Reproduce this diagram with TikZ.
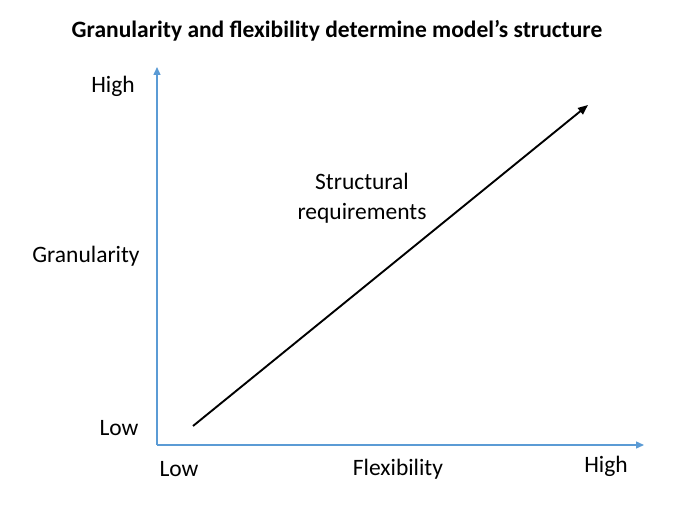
\documentclass[tikz,border=0pt]{standalone}
\usepackage{fontspec}
\setmainfont{Carlito}
\usetikzlibrary{arrows.meta}
\definecolor{axisblue}{RGB}{91,155,213}
\begin{document}
\begin{tikzpicture}[x=1pt,y=-1pt,
  lbl/.style={font=\fontsize{23.5}{27}\selectfont,inner sep=0pt,align=center},
  axis/.style={draw=axisblue,line width=1.4pt,-{Triangle[length=8pt,width=7pt]}}]
\useasboundingbox (0,0) rectangle (700,510);
\node[font=\fontsize{23.5}{27}\selectfont\bfseries,inner sep=0pt] (title) at (337,31) {Granularity and flexibility determine model’s structure};
\coordinate (o) at (157,445);
\coordinate (yt) at (157,67);
\coordinate (xt) at (644,445);
\draw[axis] (o) -- (yt);
\draw[axis] (o) -- (xt);
\coordinate (s) at (193,426);
\coordinate (e) at (588,105);
\draw[line width=1.9pt,-{Triangle[length=10pt,width=8pt]}] (s) -- (e);
\node[lbl] (yh) at (113,86) {High};
\node[lbl] (yg) at (86,256) {Granularity};
\node[lbl] (yl) at (119,428) {Low};
\node[lbl] (xl) at (179,469) {Low};
\node[lbl] (xf) at (398,469) {Flexibility};
\node[lbl] (xh) at (606,466) {High};
\node[lbl,font=\fontsize{23.5}{30}\selectfont] (sr) at (362,198) {Structural\\requirements};
\end{tikzpicture}
\end{document}
